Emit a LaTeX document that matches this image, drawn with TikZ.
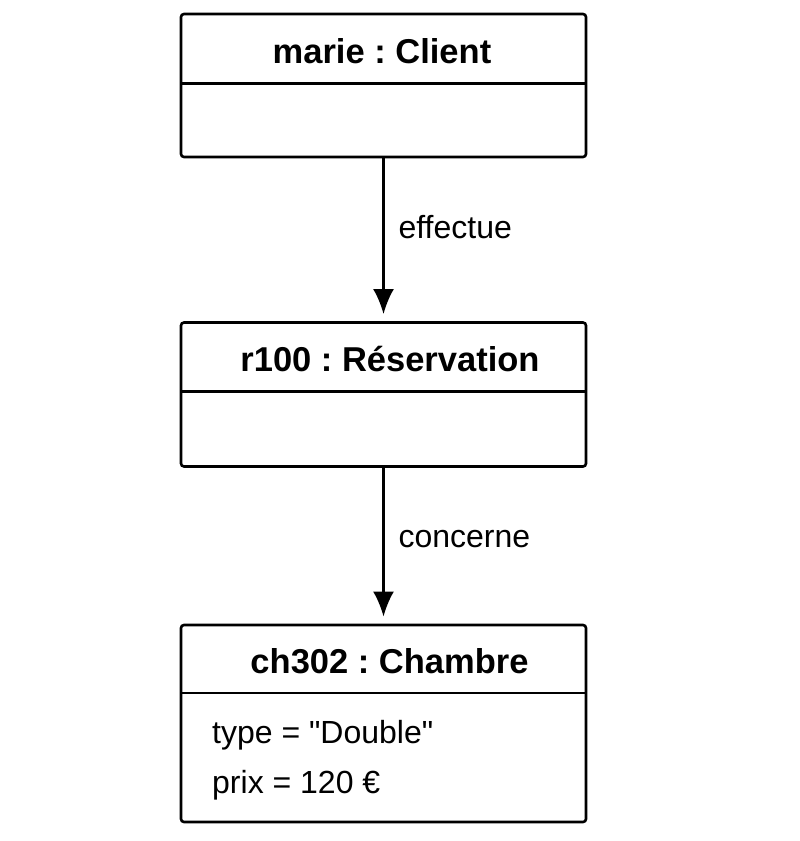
\documentclass[tikz,border=0pt]{standalone}
\usepackage{fontspec}
\setmainfont{Liberation Sans}[Ligatures={TeXOff,NoCommon}]
\frenchspacing
\usetikzlibrary{positioning,arrows.meta}

\tikzset{
  objbox/.style={draw, line width=2.6pt, rounded corners=3pt, outer sep=0pt,
    inner sep=0pt, minimum width=405pt},
  objtitle/.style={font=\fontsize{34.5}{40}\selectfont\bfseries, anchor=base},
  attr/.style={font=\fontsize{32}{38}\selectfont, anchor=base west, inner sep=0pt},
  assoc/.style={-{Latex[length=25pt,width=21pt]}, line width=2.2pt, shorten >=8.5pt},
  rolename/.style={font=\fontsize{32}{38}\selectfont, anchor=base west, inner sep=0pt, xshift=14pt}
}

\begin{document}
\begin{tikzpicture}[x=1pt,y=-1pt]
    \useasboundingbox (0,0) rectangle (800,841);

    % Objects
    \node[objbox, minimum height=143pt] (client) at (383.5,85.5) {};
    \node[objbox, minimum height=144pt] (resa) at (383.5,394.5) {};
    \node[objbox, minimum height=197pt] (chambre) at (383.5,723.5) {};

    % Compartment lines
    \foreach \obj/\sep in {client/69.5, resa/69, chambre/68} {
        \draw[line width=2.6pt] ([yshift=-\sep pt]\obj.north west) -- ([yshift=-\sep pt]\obj.north east);
    }

    % Titles
    \node[objtitle] (clienttitle) at (382,63) {marie : Client};
    \node[objtitle] (resatitle) at (390,371) {r100 : Réservation};
    \node[objtitle] (chambretitle) at (389.5,673) {ch302 : Chambre};

    % Attributes
    \node[attr] (type) at (212,743) {type = "Double"};
    \node[attr] (prix) at (212,793) {prix = 120 €};

    % Links
    \draw[assoc] (client.south) -- (resa.north)
        node[midway, rolename, yshift=1.5pt] (effectue) {ef{}fectue};
    \draw[assoc] (resa.south) -- (chambre.north)
        node[midway, rolename, yshift=-2pt] (concerne) {concerne};
\end{tikzpicture}
\end{document}
